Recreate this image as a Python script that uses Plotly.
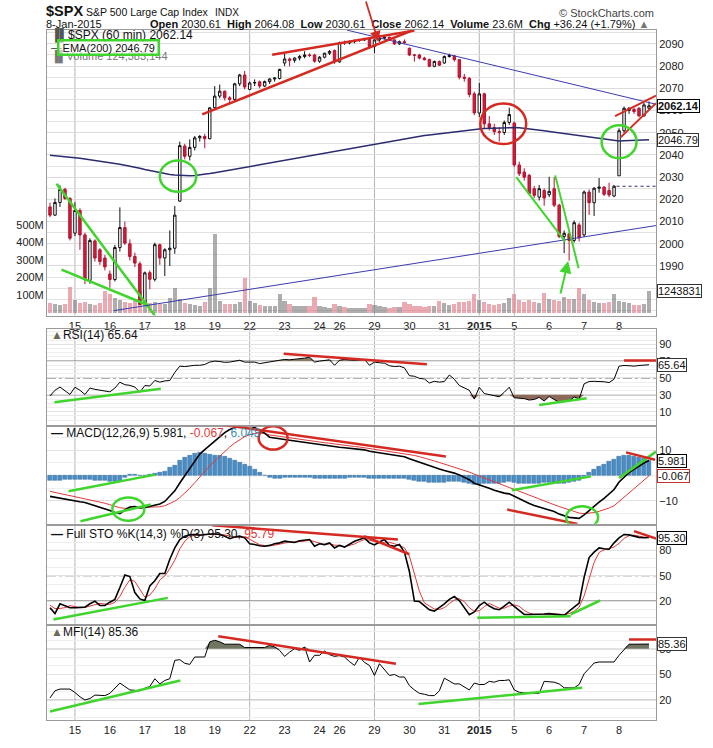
import numpy as np
import plotly.graph_objects as go

# trading days on the chart and how many 60-min bars each one has
days = ["12", "15", "16", "17", "18", "19", "22", "23", "24", "26",
        "29", "30", "31", "2015", "5", "6", "7", "8"]
bars_per_day = [5, 7, 7, 7, 7, 7, 7, 7, 4, 7, 7, 7, 7, 7, 7, 7, 7, 7]
grid_days = ["15", "22", "29", "2015", "5"]

open_ = [2016.6, 2012.9, 2018.6, 2024.5, 2020.4,
         2004.8, 2015.0, 2004.0, 1983.5, 2001.3, 1997.3, 1993.6,
         1986.4, 1983.9, 1998.3, 2007.3, 2000.0, 1994.3, 1991.0,
         1973.0, 1987.0, 1984.0, 1999.6, 1993.6, 1997.3, 1998.0,
         2019.2, 2044.0, 2039.4, 2043.4, 2047.7, 2048.3, 2047.3,
         2061.3, 2066.5, 2068.7, 2065.7, 2065.0, 2072.0, 2076.0,
         2069.5, 2072.4, 2072.9, 2071.0, 2073.0, 2074.2, 2074.4,
         2081.4, 2083.2, 2082.6, 2083.6, 2084.3, 2085.0, 2085.0,
         2082.2, 2084.0, 2085.8, 2087.0,
         2081.9, 2090.6, 2090.4, 2091.0, 2091.5, 2091.8, 2092.5,
         2088.8, 2091.8, 2092.6, 2093.0, 2091.8, 2090.0, 2091.0,
         2088.0, 2085.0, 2085.0, 2083.6, 2083.0, 2079.9, 2082.1,
         2081.4, 2084.3, 2084.6, 2082.9, 2075.0, 2074.5, 2067.5,
         2058.9, 2067.5, 2054.0, 2052.3, 2050.5, 2050.1, 2054.6,
         2054.4, 2035.5, 2032.3, 2030.8, 2024.8, 2021.0, 2024.0,
         2022.1, 2024.8, 2017.4, 2003.3, 2004.5, 2001.5, 2008.5,
         2004.0, 2023.3, 2018.5, 2025.0, 2025.5, 2024.0, 2021.5,
         2030.6, 2050.9, 2060.0, 2060.5, 2061.0, 2057.6, 2061.0]
high = [2018.5, 2020.4, 2026.3, 2025.2, 2021.0,
        2018.7, 2016.0, 2005.0, 2002.5, 2002.0, 1998.0, 1995.0,
        1988.0, 1999.5, 2016.4, 2010.0, 2002.0, 1996.0, 1992.0,
        1987.5, 1988.0, 2000.5, 2000.0, 1998.0, 2006.0, 2017.0,
        2046.0, 2045.0, 2047.0, 2048.5, 2049.0, 2049.5, 2061.5,
        2071.0, 2071.7, 2069.0, 2066.5, 2072.5, 2076.5, 2077.8,
        2073.0, 2074.0, 2073.5, 2073.5, 2074.5, 2075.0, 2078.8,
        2085.8, 2083.8, 2084.0, 2085.0, 2086.7, 2085.8, 2085.5,
        2084.5, 2086.0, 2087.2, 2087.5,
        2091.0, 2091.5, 2091.5, 2092.0, 2092.2, 2092.7, 2092.7,
        2092.0, 2093.0, 2093.5, 2093.3, 2092.0, 2091.5, 2092.0,
        2088.4, 2085.5, 2085.5, 2084.2, 2083.3, 2082.5, 2082.5,
        2084.8, 2085.6, 2085.0, 2083.2, 2076.5, 2075.0, 2068.5,
        2072.4, 2068.0, 2057.5, 2054.0, 2052.5, 2055.5, 2061.3,
        2055.0, 2037.0, 2034.0, 2031.5, 2026.0, 2026.5, 2025.0,
        2030.2, 2030.0, 2018.0, 2006.0, 2005.0, 2010.5, 2009.5,
        2024.0, 2024.5, 2025.5, 2029.6, 2026.0, 2027.5, 2026.5,
        2052.0, 2061.8, 2061.5, 2061.2, 2061.5, 2063.5, 2064.1]
low = [2012.0, 2012.5, 2016.6, 2019.8, 2001.5,
       2003.5, 1997.3, 1981.8, 1982.0, 1992.0, 1990.5, 1988.0,
       1980.2, 1983.0, 1996.5, 1999.5, 1992.5, 1989.5, 1972.6,
       1972.6, 1979.5, 1983.0, 1990.5, 1985.5, 1990.0, 1995.5,
       2018.9, 2038.0, 2037.5, 2042.0, 2046.0, 2043.0, 2047.0,
       2061.0, 2065.5, 2064.5, 2063.0, 2064.0, 2071.0, 2069.5,
       2069.3, 2071.0, 2070.0, 2070.5, 2072.0, 2073.0, 2074.0,
       2080.0, 2079.9, 2081.5, 2082.5, 2083.5, 2084.0, 2081.5,
       2081.5, 2083.5, 2085.0, 2081.0,
       2081.5, 2089.5, 2089.8, 2090.3, 2091.0, 2091.3, 2088.0,
       2085.8, 2091.0, 2092.0, 2091.5, 2089.5, 2089.5, 2089.8,
       2084.5, 2082.0, 2083.0, 2082.5, 2079.5, 2079.5, 2080.0,
       2081.0, 2083.8, 2082.0, 2074.0, 2073.0, 2066.0, 2057.9,
       2057.0, 2052.0, 2051.0, 2049.0, 2046.0, 2049.0, 2053.5,
       2034.5, 2030.5, 2028.5, 2022.0, 2020.5, 2019.5, 2017.1,
       2021.0, 2016.5, 2002.5, 1995.8, 1992.4, 2000.5, 2001.0,
       2003.0, 2013.0, 2012.5, 2023.0, 2021.5, 2021.0, 2021.0,
       2030.6, 2050.0, 2058.5, 2058.5, 2057.0, 2057.2, 2060.5]
close = [2012.9, 2018.6, 2024.5, 2020.4, 2002.5,
         2015.0, 2004.0, 1984.0, 2001.5, 1993.6, 1992.0, 1989.6,
         1983.9, 1998.3, 2007.3, 2000.3, 1994.3, 1991.3, 1972.7,
         1986.9, 1984.0, 1999.6, 1993.6, 1997.3, 1998.0, 2012.9,
         2044.2, 2039.4, 2043.4, 2047.7, 2048.3, 2047.3, 2061.2,
         2066.5, 2068.7, 2065.7, 2065.0, 2072.0, 2076.0, 2070.6,
         2072.4, 2072.6, 2071.0, 2073.0, 2074.2, 2074.6, 2078.5,
         2083.2, 2082.6, 2083.6, 2084.3, 2085.0, 2084.8, 2082.2,
         2084.0, 2085.8, 2086.6, 2081.9,
         2090.6, 2090.4, 2091.0, 2091.5, 2091.8, 2092.3, 2088.8,
         2091.8, 2092.6, 2093.0, 2091.8, 2090.0, 2091.0, 2090.6,
         2085.0, 2084.9, 2083.6, 2082.9, 2079.9, 2082.1, 2080.4,
         2084.3, 2084.8, 2082.9, 2075.0, 2074.5, 2067.2, 2058.9,
         2067.5, 2054.0, 2052.3, 2050.5, 2050.1, 2054.6, 2058.2,
         2035.5, 2031.5, 2030.0, 2022.6, 2021.8, 2024.8, 2020.6,
         2023.6, 2017.4, 2003.3, 2004.7, 2001.5, 2009.5, 2002.6,
         2023.3, 2018.5, 2025.0, 2025.5, 2022.3, 2022.0, 2025.9,
         2050.9, 2061.0, 2061.0, 2059.5, 2057.6, 2062.5, 2062.14]
volume_m = [55, 48, 44, 46, 146,
            72, 56, 62, 48, 44, 52, 124,
            108, 82, 70, 58, 52, 64, 120,
            70, 56, 62, 50, 48, 82, 140,
            78, 52, 48, 42, 40, 60, 140,
            446, 66, 50, 48, 46, 58, 198,
            66, 55, 45, 38, 36, 40, 104,
            66, 50, 40, 36, 36, 36, 90,
            40, 32, 28, 51,
            40, 30, 26, 25, 26, 28, 50,
            45, 36, 30, 28, 30, 34, 62,
            50, 40, 35, 32, 38, 36, 66,
            52, 42, 46, 60, 58, 66, 104,
            72, 58, 50, 44, 48, 52, 85,
            104, 72, 62, 70, 60, 56, 113,
            80, 70, 66, 88, 78, 80, 141,
            104, 70, 62, 56, 52, 60, 104,
            66, 60, 55, 45, 42, 50, 124.4]
ema200 = [2039.9, 2039.6, 2039.4, 2039.2, 2038.9,
          2038.7, 2038.5, 2038.2, 2037.9, 2037.6, 2037.3, 2037.0,
          2036.6, 2036.2, 2035.8, 2035.4, 2035.0, 2034.6, 2034.0,
          2033.4, 2032.9, 2032.4, 2032.0, 2031.6, 2031.2, 2031.0,
          2030.8, 2030.7, 2030.6, 2030.7, 2030.9, 2031.2, 2031.6,
          2032.0, 2032.4, 2032.8, 2033.2, 2033.6, 2034.0, 2034.4,
          2034.8, 2035.2, 2035.6, 2036.0, 2036.4, 2036.8, 2037.2,
          2037.6, 2038.0, 2038.4, 2038.8, 2039.2, 2039.6, 2040.0,
          2040.4, 2040.8, 2041.2, 2041.6,
          2042.0, 2042.4, 2042.8, 2043.2, 2043.6, 2044.0, 2044.4,
          2044.8, 2045.2, 2045.7, 2046.1, 2046.6, 2047.0, 2047.4,
          2047.8, 2048.1, 2048.4, 2048.7, 2049.0, 2049.3, 2049.6,
          2049.9, 2050.2, 2050.5, 2050.8, 2051.1, 2051.3, 2051.5,
          2051.7, 2051.9, 2052.0, 2052.1, 2052.2, 2052.3, 2052.3,
          2052.3, 2052.2, 2052.0, 2051.8, 2051.5, 2051.2, 2050.9,
          2050.6, 2050.3, 2050.0, 2049.7, 2049.3, 2048.9, 2048.5,
          2048.2, 2047.9, 2047.6, 2047.3, 2047.0, 2046.7, 2046.4,
          2046.3, 2046.4, 2046.5, 2046.55, 2046.6, 2046.7, 2046.79]
rsi14 = [28.8, 35.4, 39.2, 35.0, 30.4,
         39.0, 35.4, 30.4, 38.0, 36.5, 35.8, 35.0,
         33.5, 38.0, 45.0, 42.0, 41.2, 39.2, 33.0,
         41.0, 40.5, 47.0, 45.0, 46.5, 47.0, 56.5,
         64.0, 63.5, 64.5, 65.0, 65.0, 66.0, 68.8,
         70.0, 69.5, 68.5, 68.8, 69.5, 71.0, 68.8,
         69.0, 68.8, 67.0, 68.0, 68.8, 69.5, 70.5,
         72.0, 71.5, 72.0, 72.5, 73.5, 74.6, 68.8,
         70.0, 71.0, 71.5, 65.0,
         71.0, 72.0, 71.5, 71.0, 71.5, 72.0, 65.0,
         68.8, 68.0, 67.5, 64.5, 63.5, 64.0, 62.0,
         52.7, 52.0, 49.5, 48.8, 44.0, 46.0, 45.0,
         45.8, 53.5, 48.5, 41.0, 38.0, 35.4, 25.0,
         39.0, 31.5, 30.5, 29.0, 27.7, 33.0, 39.0,
         26.5, 25.8, 25.5, 23.8, 24.5, 27.0, 22.7,
         28.0, 24.0, 21.0, 22.0, 22.5, 27.5, 25.0,
         43.0, 45.8, 46.0, 46.0, 45.5, 44.5, 48.5,
         64.0, 64.8, 64.5, 64.0, 64.8, 65.3, 65.64]
macd = [-8.2, -8.6, -8.9, -9.2, -9.5,
        -9.9, -10.3, -10.6, -11.2, -11.8, -12.5, -13.0,
        -13.8, -14.6, -15.0, -13.6, -12.4, -12.2, -12.8,
        -12.6, -12.2, -11.8, -11.2, -10.2, -8.0, -6.0,
        -2.9, 0.0, 2.8, 6.0, 8.5, 10.3, 12.0,
        13.6, 15.5, 17.0, 18.2, 19.0, 19.6, 19.8,
        19.6, 19.0, 18.0, 16.8, 15.2, 14.8, 14.5,
        14.3, 14.0, 13.7, 13.5, 13.3, 13.0, 12.5,
        12.2, 12.0, 11.8, 11.3,
        11.2, 11.0, 10.8, 10.6, 10.4, 10.2, 9.6,
        9.3, 9.1, 8.9, 8.6, 8.2, 7.9, 7.5,
        6.7, 6.0, 5.3, 4.6, 3.7, 3.2, 2.6,
        2.0, 1.6, 1.0, 0.3, -0.5, -1.6, -3.0,
        -3.6, -4.3, -5.0, -5.8, -6.5, -6.9, -7.2,
        -8.2, -9.2, -10.0, -11.0, -11.8, -12.4, -13.0,
        -13.5, -14.2, -15.2, -16.0, -16.5, -16.7, -16.9,
        -15.5, -13.8, -12.0, -10.5, -9.0, -7.2, -5.5,
        -2.5, -0.5, 1.2, 2.5, 3.8, 5.0, 5.981]
macd_signal = [-6.2, -6.7, -7.1, -7.5, -7.9,
               -8.3, -8.7, -9.1, -9.5, -9.9, -10.4, -10.9,
               -11.5, -12.1, -12.7, -12.9, -12.8, -12.7, -12.7,
               -12.7, -12.6, -12.5, -12.3, -11.9, -11.1, -10.1,
               -8.7, -7.0, -5.0, -2.8, -0.5, 1.7, 3.8,
               5.8, 7.7, 9.6, 11.3, 12.9, 14.3, 15.4,
               16.2, 16.7, 16.8, 16.6, 16.1, 15.8, 15.5,
               15.2, 14.9, 14.6, 14.4, 14.1, 13.9, 13.6,
               13.3, 13.0, 12.8, 12.5,
               12.2, 12.0, 11.7, 11.5, 11.3, 11.0, 10.7,
               10.4, 10.2, 9.9, 9.7, 9.4, 9.1, 8.8,
               8.4, 8.0, 7.5, 7.0, 6.4, 5.8, 5.2,
               4.6, 4.0, 3.4, 2.8, 2.1, 1.4, 0.6,
               -0.2, -1.0, -1.8, -2.6, -3.4, -4.1, -4.7,
               -5.4, -6.2, -7.0, -7.8, -8.6, -9.4, -10.1,
               -10.8, -11.5, -12.2, -12.9, -13.6, -14.2, -14.8,
               -15.0, -14.9, -14.6, -14.1, -13.5, -12.8, -11.9,
               -10.2, -8.5, -6.8, -5.1, -3.4, -1.7, -0.067]
macd_hist = [-2.0, -1.9, -1.8, -1.7, -1.6,
             -1.6, -1.6, -1.5, -1.7, -1.9, -2.1, -2.1,
             -2.3, -2.5, -2.3, -0.7, 0.4, 0.5, -0.1,
             0.1, 0.4, 0.7, 1.1, 1.7, 3.1, 4.1,
             5.8, 7.0, 7.8, 8.8, 9.0, 8.6, 8.2,
             7.8, 7.8, 7.4, 6.9, 6.1, 5.3, 4.4,
             3.4, 2.3, 1.2, 0.2, -0.9, -1.0, -1.0,
             -0.9, -0.9, -0.9, -0.9, -0.8, -0.9, -1.1,
             -1.1, -1.0, -1.0, -1.2,
             -1.0, -1.0, -0.9, -0.9, -0.9, -0.8, -1.1,
             -1.1, -1.1, -1.0, -1.1, -1.2, -1.2, -1.3,
             -1.7, -2.0, -2.2, -2.4, -2.7, -2.6, -2.6,
             -2.6, -2.4, -2.4, -2.5, -2.6, -3.0, -3.6,
             -3.4, -3.3, -3.2, -3.2, -3.1, -2.8, -2.5,
             -2.8, -3.0, -3.0, -3.2, -3.2, -3.0, -2.9,
             -2.7, -2.7, -3.0, -3.1, -2.9, -2.5, -2.1,
             -0.5, 1.1, 2.6, 3.6, 4.5, 5.6, 6.4,
             7.7, 8.0, 8.0, 7.6, 7.2, 6.7, 6.048]
sto_k = [12.0, 5.0, 16.7, 14.7, 12.0,
         12.0, 12.5, 12.7, 16.7, 19.8, 14.7, 14.7,
         18.6, 22.0, 36.0, 51.0, 49.0, 30.0, 22.5,
         20.6, 38.0, 44.0, 52.7, 52.7, 69.6, 83.0,
         93.0, 97.0, 98.5, 99.0, 98.0, 99.0, 99.5,
         99.5, 99.0, 97.0, 94.0, 96.0, 97.0, 95.0,
         88.0, 87.0, 85.5, 85.0, 86.0, 88.0, 89.0,
         91.0, 90.0, 89.5, 91.5, 92.0, 93.0, 85.0,
         88.0, 87.0, 89.0, 83.0,
         86.0, 84.0, 88.0, 91.0, 93.0, 95.0, 89.0,
         86.5, 90.0, 93.0, 86.0, 85.0, 87.0, 78.0,
         55.0, 20.0, 19.4, 14.0, 9.6, 8.0, 12.0,
         16.7, 22.0, 25.3, 20.6, 12.0, 3.7, 7.0,
         14.7, 18.6, 14.0, 10.8, 9.6, 14.0, 18.6,
         13.5, 9.0, 4.0, 4.0, 4.0, 4.5, 4.5,
         5.0, 4.5, 4.0, 3.0, 8.0, 12.7, 17.5,
         48.0, 71.6, 78.0, 83.0, 82.0, 81.4, 89.0,
         95.0, 99.0, 98.5, 97.0, 95.5, 95.0, 95.3]
sto_d = [15.0, 11.0, 11.2, 12.1, 14.5,
         13.0, 12.2, 12.4, 14.0, 16.4, 17.1, 16.4,
         16.0, 18.4, 25.5, 36.3, 45.3, 43.3, 34.0,
         24.5, 27.0, 34.3, 45.0, 49.8, 58.3, 68.4,
         81.9, 91.0, 96.2, 98.2, 98.5, 98.7, 98.8,
         99.3, 99.3, 98.5, 96.7, 95.7, 95.7, 96.0,
         93.3, 90.0, 86.8, 85.8, 85.5, 86.3, 87.7,
         89.3, 90.0, 90.2, 90.3, 91.0, 92.2, 90.0,
         88.7, 86.7, 88.0, 86.3,
         86.0, 84.3, 86.0, 87.7, 90.7, 93.0, 92.3,
         90.2, 88.5, 89.8, 89.7, 88.0, 86.0, 83.3,
         73.3, 51.0, 31.5, 17.8, 14.3, 10.5, 9.9,
         12.2, 16.9, 21.3, 22.6, 19.3, 12.1, 7.6,
         8.5, 13.4, 17.1, 14.5, 11.5, 11.5, 14.1,
         15.4, 13.7, 8.8, 5.7, 4.0, 4.2, 4.3,
         4.7, 4.7, 4.5, 3.8, 5.0, 7.9, 12.7,
         26.1, 45.7, 65.9, 77.5, 81.0, 82.1, 84.1,
         88.5, 94.3, 97.5, 98.2, 97.0, 95.8, 95.79]
mfi14 = [22.7, 31.0, 33.0, 33.0, 33.0,
         29.0, 24.0, 20.3, 22.0, 26.0, 26.0, 25.4,
         28.0, 34.0, 40.0, 36.0, 32.0, 31.5, 31.0,
         34.0, 36.0, 45.0, 39.0, 43.0, 45.0, 66.4,
         67.2, 63.0, 61.7, 70.3, 70.3, 70.3, 87.9,
         89.8, 88.0, 85.2, 85.2, 85.2, 85.2, 81.3,
         81.3, 81.3, 81.3, 81.3, 84.0, 82.0, 78.0,
         71.0, 76.0, 80.0, 78.0, 82.0, 64.5, 72.3,
         72.3, 77.3, 73.0, 71.0,
         72.0, 70.3, 65.0, 60.5, 70.3, 64.0, 60.5,
         48.8, 62.5, 55.0, 48.8, 50.0, 47.0, 47.0,
         37.0, 32.0, 28.0, 27.0, 25.4, 25.4, 31.0,
         45.7, 42.0, 39.0, 39.0, 35.0, 32.0, 40.0,
         38.3, 38.3, 42.0, 41.0, 43.0, 43.0, 43.8,
         32.0, 29.3, 28.5, 28.0, 28.0, 28.0, 42.0,
         41.5, 41.0, 39.0, 34.4, 34.4, 34.4, 38.3,
         50.8, 57.0, 63.3, 64.5, 64.5, 64.5, 64.5,
         72.3, 79.0, 85.2, 85.2, 85.3, 85.36, 85.36]

n = len(close)
for arr in (open_, high, low, volume_m, ema200, rsi14, macd, macd_signal,
            macd_hist, sto_k, sto_d, mfi14):
    assert len(arr) == n, len(arr)
assert sum(bars_per_day) == n

idx = np.arange(n)
starts = np.cumsum([0] + bars_per_day[:-1])
tick_pos = list(starts[1:])
tick_txt = ["<b>2015</b>" if d == "2015" else d for d in days[1:]]
grid_pos = [starts[days.index(d)] for d in grid_days]

RED = "#d42a22"
GREEN = "#3fd52c"
BLUE = "#3b3bb0"
FONT = "Liberation Sans, Arial, sans-serif"

# figure geometry (pixels)
W, H = 713, 748
ML, MR, MT, MB = 47, 57, 30, 22
PH = H - MT - MB


def py(y):
    return (H - MB - y) / PH


def px(x):
    return (x - ML) / (W - ML - MR)


XR = [-0.6, 121.4]

fig = go.Figure()

# ---- price panel
vol_col = ["rgba(225,125,135,0.65)" if c < o else "rgba(120,120,120,0.6)"
           for o, c in zip(open_, close)]
fig.add_trace(go.Bar(x=idx, y=volume_m, marker=dict(color=vol_col, line_width=0),
                     width=0.85, xaxis="x", yaxis="y"))
fig.add_trace(go.Scatter(x=idx, y=ema200, mode="lines",
                         line=dict(color="#2b2b70", width=1.5), xaxis="x", yaxis="y2"))
fig.add_trace(go.Candlestick(x=idx, open=open_, high=high, low=low, close=close,
                             increasing=dict(line=dict(color="#111111", width=1), fillcolor="white"),
                             decreasing=dict(line=dict(color="#b8102e", width=1), fillcolor="#cc1f3d"),
                             whiskerwidth=0, xaxis="x", yaxis="y2"))

# ---- RSI
rsi = np.array(rsi14)
fig.add_trace(go.Scatter(x=idx, y=[70] * n, mode="lines", line=dict(width=0),
                         xaxis="x2", yaxis="y3"))
fig.add_trace(go.Scatter(x=idx, y=np.maximum(rsi, 70), mode="lines", line=dict(width=0),
                         fill="tonexty", fillcolor="#8c7a66", xaxis="x2", yaxis="y3"))
fig.add_trace(go.Scatter(x=idx, y=[30] * n, mode="lines", line=dict(width=0),
                         xaxis="x2", yaxis="y3"))
fig.add_trace(go.Scatter(x=idx, y=np.minimum(rsi, 30), mode="lines", line=dict(width=0),
                         fill="tonexty", fillcolor="#8c6a5a", xaxis="x2", yaxis="y3"))
fig.add_trace(go.Scatter(x=idx, y=rsi14, mode="lines", line=dict(color="black", width=1),
                         xaxis="x2", yaxis="y3"))

# ---- MACD
fig.add_trace(go.Bar(x=idx, y=macd_hist, width=0.8,
                     marker=dict(color="#4a8cc4", line=dict(color="#2f6a9c", width=0.5)),
                     xaxis="x3", yaxis="y4"))
fig.add_trace(go.Scatter(x=idx, y=macd_signal, mode="lines", line=dict(color="#e03a3a", width=1),
                         xaxis="x3", yaxis="y4"))
fig.add_trace(go.Scatter(x=idx, y=macd, mode="lines", line=dict(color="black", width=1.6),
                         xaxis="x3", yaxis="y4"))

# ---- Full stochastics
fig.add_trace(go.Scatter(x=idx, y=sto_d, mode="lines", line=dict(color="#e03a3a", width=1),
                         xaxis="x4", yaxis="y5"))
fig.add_trace(go.Scatter(x=idx, y=sto_k, mode="lines", line=dict(color="black", width=1.6),
                         xaxis="x4", yaxis="y5"))

# ---- MFI
mfi = np.array(mfi14)
fig.add_trace(go.Scatter(x=idx, y=[80] * n, mode="lines", line=dict(width=0),
                         xaxis="x5", yaxis="y6"))
fig.add_trace(go.Scatter(x=idx, y=np.maximum(mfi, 80), mode="lines", line=dict(width=0),
                         fill="tonexty", fillcolor="#6f7560", xaxis="x5", yaxis="y6"))
fig.add_trace(go.Scatter(x=idx, y=mfi14, mode="lines", line=dict(color="black", width=1),
                         xaxis="x5", yaxis="y6"))

# ---- axes
frame = dict(showline=True, mirror=True, linecolor="#9a9a9a", linewidth=1,
             zeroline=False, ticks="", tickfont=dict(family=FONT, size=11, color="#222"))
xcommon = dict(frame, range=XR, showgrid=False)
grid = "#e2e2e2"

dom_price = [py(318), 1.0]
dom_rsi = [py(428), py(332)]
dom_macd = [py(528), py(430)]
dom_sto = [py(629), py(530)]
dom_mfi = [0.0, py(631)]

fig.update_layout(
    width=W, height=H, margin=dict(l=ML, r=MR, t=MT, b=MB),
    paper_bgcolor="white", plot_bgcolor="white", showlegend=False,
    bargap=0, hovermode=False,
    xaxis=dict(xcommon, anchor="y", tickvals=tick_pos, ticktext=tick_txt,
               rangeslider=dict(visible=False)),
    xaxis2=dict(xcommon, anchor="y3", matches="x", showticklabels=False),
    xaxis3=dict(xcommon, anchor="y4", matches="x", showticklabels=False),
    xaxis4=dict(xcommon, anchor="y5", matches="x", showticklabels=False),
    xaxis5=dict(xcommon, anchor="y6", matches="x", tickvals=tick_pos, ticktext=tick_txt),
    yaxis=dict(frame, domain=dom_price, anchor="x", side="left", range=[-17, 1610],
               tickvals=[100, 200, 300, 400, 500],
               ticktext=["100M", "200M", "300M", "400M", "500M"], showgrid=False),
    yaxis2=dict(frame, domain=dom_price, anchor="x", overlaying="y", side="right",
                range=[1967.7, 2096.25], tickvals=list(range(1990, 2091, 10)),
                showgrid=True, gridcolor="#dcdcdc",
                minor=dict(tickmode="linear", tick0=1970, dtick=5, showgrid=True,
                           gridcolor=grid)),
    yaxis3=dict(frame, domain=dom_rsi, anchor="x2", side="right", range=[-5.3, 107.6],
                tickvals=[10, 30, 50, 70, 90], showgrid=True, gridcolor=grid,
                minor=dict(tickmode="linear", tick0=0, dtick=5, showgrid=True,
                           gridcolor="#eeeeee")),
    yaxis4=dict(frame, domain=dom_macd, anchor="x3", side="right", range=[-19.0, 19.4],
                tickvals=[-10, 10], showgrid=True, gridcolor=grid,
                minor=dict(tickmode="linear", tick0=0, dtick=5, showgrid=True,
                           gridcolor="#eeeeee")),
    yaxis5=dict(frame, domain=dom_sto, anchor="x4", side="right", range=[-7.1, 109.4],
                tickvals=[20, 50, 80], showgrid=True, gridcolor=grid,
                minor=dict(tickmode="linear", tick0=0, dtick=10, showgrid=True,
                           gridcolor="#eeeeee")),
    yaxis6=dict(frame, domain=dom_mfi, anchor="x5", side="right", range=[-3.0, 106.6],
                tickvals=[20, 50, 80], showgrid=True, gridcolor=grid,
                minor=dict(tickmode="linear", tick0=0, dtick=10, showgrid=True,
                           gridcolor="#eeeeee")),
)

# ---- shapes: week grid lines, reference levels, hand-drawn trend lines
shapes = []
for xref, yref in [("x", "y domain"), ("x2", "y3 domain"), ("x3", "y4 domain"),
                   ("x4", "y5 domain"), ("x5", "y6 domain")]:
    for g in grid_pos:
        shapes.append(dict(type="line", xref=xref, yref=yref, x0=g, x1=g, y0=0, y1=1,
                           line=dict(color="#b4b4b4", width=1), layer="below"))


def level(yref, y, dash="solid", color="#555555"):
    return dict(type="line", xref="paper", x0=0, x1=1, yref=yref, y0=y, y1=y,
                line=dict(color=color, width=1, dash=dash), layer="below")


shapes += [level("y3", 70), level("y3", 30), level("y3", 50, "dashdot"),
           level("y4", 0, color="#9fb8cf"),
           level("y5", 80), level("y5", 20), level("y5", 50, "dashdot"),
           level("y6", 80), level("y6", 20)]

# previous close marker
shapes.append(dict(type="line", xref="x", yref="y2", x0=113.5, x1=121.4, y0=2025.9, y1=2025.9,
                   line=dict(color="#2b2b70", width=1, dash="dot")))

trend_lines = {
    "y2": [(1.3, 2027.0, 21.0, 1967.7, GREEN, 2.5),
           (2.3, 1988.4, 20.0, 1972.0, GREEN, 2.5),
           (12.8, 1969.9, 121.4, 2008.2, BLUE, 1),
           (59.5, 2096.2, 121.4, 2062.8, BLUE, 1),
           (30.5, 2058.3, 72.5, 2096.0, RED, 2.5),
           (44.5, 2085.1, 73.0, 2096.0, RED, 2.5),
           (113.2, 2057.5, 121.4, 2066.7, RED, 2),
           (114.3, 2047.9, 121.4, 2063.3, RED, 2),
           (93.4, 2030.0, 103.2, 2001.0, GREEN, 2),
           (101.2, 2030.8, 105.9, 1989.0, GREEN, 2)],
    "y3": [(0.9, 21.2, 22.2, 37.3, GREEN, 2.5),
           (46.8, 78.8, 75.5, 66.2, RED, 2.5),
           (98.0, 18.0, 107.5, 25.8, GREEN, 2.5),
           (115.0, 70.8, 121.4, 70.8, RED, 2.5)],
    "y4": [(3.7, -6.2, 21.1, 0.4, GREEN, 2.5),
           (6.1, -18.0, 20.2, -11.4, GREEN, 2.5),
           (33.0, 20.5, 79.3, 7.6, RED, 2.5),
           (92.5, -5.8, 108.4, -0.3, GREEN, 2.5),
           (91.6, -13.4, 105.7, -19.1, RED, 2.5),
           (114.0, -0.9, 121.4, 9.5, GREEN, 2.5),
           (115.4, 9.2, 121.2, 6.3, RED, 2.5)],
    "y5": [(32.5, 110.0, 69.7, 93.0, RED, 2.5),
           (62.9, 97.0, 72.0, 75.5, RED, 2.5),
           (0.7, -2.0, 23.6, 23.7, GREEN, 2.5),
           (85.6, 0.2, 104.3, 1.8, GREEN, 2.5),
           (104.3, 4.0, 110.2, 20.6, GREEN, 2.5),
           (117.0, 103.0, 121.4, 94.2, RED, 2.5)],
    "y6": [(0.0, 7.0, 26.1, 43.0, GREEN, 2.5),
           (33.7, 94.5, 69.3, 62.5, RED, 2.5),
           (73.8, 15.6, 106.6, 34.4, GREEN, 2.5),
           (116.0, 90.6, 121.4, 90.6, RED, 2.5)],
}
xref_of = {"y2": "x", "y3": "x2", "y4": "x3", "y5": "x4", "y6": "x5"}
for yref, lines in trend_lines.items():
    for x0, y0, x1, y1, col, w in lines:
        shapes.append(dict(type="line", xref=xref_of[yref], yref=yref,
                           x0=x0, y0=y0, x1=x1, y1=y1, line=dict(color=col, width=w)))

circles = [("y2", 22.0, 2023.4, 29.3, 2037.5, GREEN),
           ("y2", 86.2, 2044.9, 95.4, 2063.2, RED),
           ("y2", 110.5, 2038.5, 117.5, 2053.4, GREEN),
           ("y4", 12.5, -17.8, 18.9, -8.6, GREEN),
           ("y4", 41.8, 10.3, 47.6, 19.5, RED),
           ("y4", 103.4, -21.0, 109.8, -12.1, GREEN)]
for yref, x0, y0, x1, y1, col in circles:
    shapes.append(dict(type="circle", xref=xref_of[yref], yref=yref,
                       x0=x0, y0=y0, x1=x1, y1=y1, line=dict(color=col, width=2.5)))

fig.update_layout(shapes=shapes)

# ---- text
ann = []


def text(x, y, s, size=12, color="#111", anchor="left", **kw):
    ann.append(dict(xref="paper", yref="paper", x=px(x), y=py(y), text=s, showarrow=False,
                    xanchor=anchor, yanchor="middle",
                    font=dict(family=FONT, size=size, color=color), **kw))


text(44, 11, "<b>$SPX</b>", size=14.5)
text(84, 12, "S&P 500 Large Cap Index", size=10.5)
text(213, 12.5, "INDX", size=10)
text(656, 13, "© StockCharts.com", size=11, color="#444", anchor="right")
text(44, 24, "8-Jan-2015", size=11)
text(651, 24, "<b>Open</b> 2030.61  <b>High</b> 2064.08  <b>Low</b> 2030.61  "
     "<b>Close</b> 2062.14  <b>Volume</b> 23.6M  <b>Chg</b> +36.24 (+1.79%) "
     "<span style='color:#777'>▲</span>", size=11, anchor="right")

text(49, 36, "<span style='color:#555'>▐▌</span>$SPX (60 min) 2062.14", size=12)
text(49, 57, "<span style='color:#777'>▐▌Volume 124,383,144</span>", size=11)
text(49, 47, "<span style='color:#333'>—</span>", size=11)
text(57, 47.5, " EMA(200) 2046.79 ", size=11, bordercolor=GREEN, borderwidth=2.5,
     borderpad=0, bgcolor="rgba(255,255,255,0.6)")
text(49, 338, "<span style='color:#6b6b55'>▲</span>RSI(14) 65.64", size=12)
text(49, 437, "<b>—</b> MACD(12,26,9) 5.981, <span style='color:#e03a3a'>-0.067</span>, "
     "<span style='color:#3a8fb7'>6.048</span>", size=12)
text(49, 538, "<b>—</b> Full STO %K(14,3) %D(3) 95.30, "
     "<span style='color:#e03a3a'>95.79</span>", size=12)
text(49, 637, "<span style='color:#6b6b55'>▲</span>MFI(14) 85.36", size=12)

# right-hand value boxes
for yref, val, label, col, bold in [("y2", 2062.14, "2062.14", "#000", True),
                                    ("y2", 2046.79, "2046.79", "#333", False),
                                    ("y", 124.4, "1243831", "#333", False),
                                    ("y3", 65.64, "65.64", "#333", False),
                                    ("y4", 5.981, "5.981", "#000", False),
                                    ("y4", -0.067, "-0.067", "#c03030", False),
                                    ("y5", 95.30, "95.30", "#000", False),
                                    ("y6", 85.36, "85.36", "#333", False)]:
    ann.append(dict(xref="paper", yref=yref, x=1, y=val, xanchor="left", yanchor="middle",
                    xshift=1, showarrow=False, text="<b>%s</b>" % label if bold else label,
                    font=dict(family=FONT, size=11, color="#111"), bgcolor="white",
                    bordercolor=col, borderwidth=1, borderpad=0))

# hand-drawn arrows
ann.append(dict(xref="x", yref="y2", x=65.8, y=2090.9, ax=-13, ay=-42, text="",
                showarrow=True, arrowhead=2, arrowsize=1.2, arrowwidth=1.8, arrowcolor=RED))
ann.append(dict(xref="x", yref="y2", x=103.8, y=1992.2, ax=-8, ay=34, text="",
                showarrow=True, arrowhead=2, arrowsize=1.2, arrowwidth=2, arrowcolor=GREEN))

fig.update_layout(annotations=ann)

fig.write_html("out.html", config={"displayModeBar": False},
               post_script="document.body.style.margin='0';")
